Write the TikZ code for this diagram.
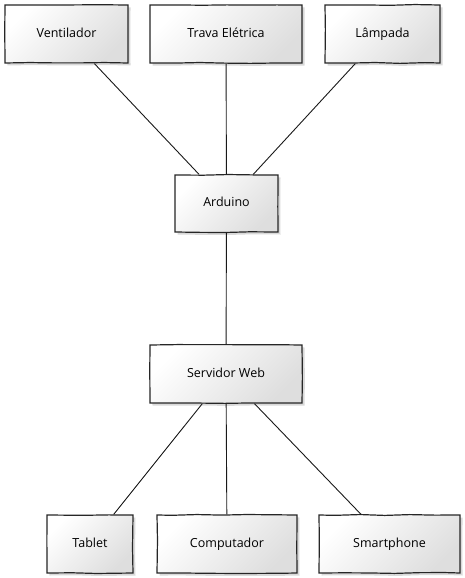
\documentclass[tikz,border=0pt]{standalone}
\usepackage{fontspec}
\setmainfont{Open Sans}
\usetikzlibrary{shadows,decorations.pathmorphing}
\begin{document}
\begin{tikzpicture}[x=1pt,y=-1pt,
  box/.style={draw=black!85, line width=1.2pt, rectangle,
    top color=white, bottom color=black!13, shading angle=45,
    drop shadow={shadow xshift=2.5pt, shadow yshift=-2.5pt, opacity=0.25, fill=black!60},
    minimum height=58pt, font=\fontsize{12.5}{14}\selectfont,
    text height=1.6ex, text depth=0.4ex,
    decorate, decoration={random steps, segment length=25pt, amplitude=0.5pt}},
  link/.style={draw=black!90, line width=0.9pt}]
\useasboundingbox (0,0) rectangle (464,578);
\node[box, minimum width=123pt] (v) at (66.5,34) {Ventilador};
\node[box, minimum width=152pt] (t) at (226,34) {Trava  Elétrica};
\node[box, minimum width=115pt] (l) at (382.5,34) {Lâmpada};
\node[box, minimum width=103pt, minimum height=57pt] (a) at (226.5,203.5) {Arduino};
\node[box, minimum width=152pt] (s) at (226,374) {Servidor  Web};
\node[box, minimum width=86pt] (tb) at (90,544) {Tablet};
\node[box, minimum width=140pt] (c) at (227,544) {Computador};
\node[box, minimum width=141pt] (sp) at (389.5,544) {Smartphone};
\draw[link] (v) -- (a);
\draw[link] (t) -- (a);
\draw[link] (l) -- (a);
\draw[link] (a) -- (s);
\draw[link] (s) -- (tb);
\draw[link] (s) -- (c);
\draw[link] (s) -- (sp);
\end{tikzpicture}
\end{document}
